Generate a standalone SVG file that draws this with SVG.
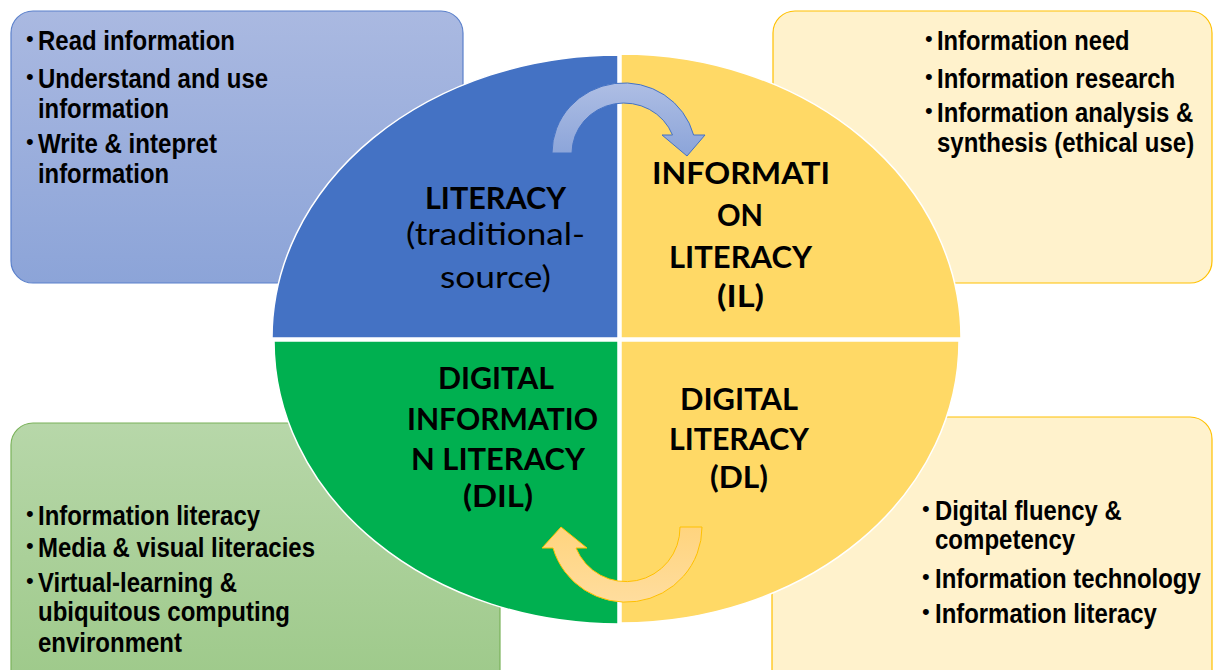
<svg xmlns="http://www.w3.org/2000/svg" width="1214" height="670" viewBox="0 0 1214 670">
<defs>
<linearGradient id="gBlue" x1="0" y1="0" x2="0" y2="1"><stop offset="0" stop-color="#AAB9E1"/><stop offset="1" stop-color="#8CA4D8"/></linearGradient>
<linearGradient id="gGreen" x1="0" y1="0" x2="0" y2="1"><stop offset="0" stop-color="#B7D7A9"/><stop offset="1" stop-color="#9DC989"/></linearGradient>
<linearGradient id="gArrowB" x1="0" y1="0" x2="0" y2="1"><stop offset="0" stop-color="#AEBEE4"/><stop offset="1" stop-color="#8BA4D9"/></linearGradient>
<linearGradient id="gArrowY" x1="0" y1="0" x2="0" y2="1"><stop offset="0" stop-color="#FFD47E"/><stop offset="1" stop-color="#FFDD9E"/></linearGradient>
<style>
.b{font-family:"Liberation Sans",Arial,sans-serif;font-weight:bold;fill:#000;}
.s28{font-size:28px;}
.s27{font-size:27px;}
.u{font-family:"Liberation Sans",Arial,sans-serif;font-size:22px;fill:#000;}
.c{font-family:Lato,"Open Sans",sans-serif;font-size:31px;fill:#000;}
.cb{font-weight:bold;}
.q{stroke:#FFFFFF;stroke-width:1.5;}
</style>
</defs>

<g id="box-literacy">
<rect x="11" y="11" width="452" height="272" rx="22" fill="url(#gBlue)" stroke="#5B80CB" stroke-width="1.2"/>
<text class="u" x="26" y="46">•</text>
<text class="b s28" x="38" y="50" textLength="197" lengthAdjust="spacingAndGlyphs">Read information</text>
<text class="u" x="26" y="84">•</text>
<text class="b s28" x="38" y="88" textLength="230" lengthAdjust="spacingAndGlyphs">Understand and use</text>
<text class="b s28" x="38" y="118" textLength="131" lengthAdjust="spacingAndGlyphs">information</text>
<text class="u" x="26" y="149">•</text>
<text class="b s28" x="38" y="153" textLength="179" lengthAdjust="spacingAndGlyphs">Write &amp; intepret</text>
<text class="b s28" x="38" y="183" textLength="131" lengthAdjust="spacingAndGlyphs">information</text>
</g>

<g id="box-il">
<rect x="773" y="11" width="439" height="272" rx="22" fill="#FFF2CC" stroke="#FFC000" stroke-width="1.2"/>
<text class="u" x="925" y="46">•</text>
<text class="b s28" transform="translate(937,50) scale(0.86,1)" textLength="224" lengthAdjust="spacingAndGlyphs">Information need</text>
<text class="u" x="925" y="84">•</text>
<text class="b s28" transform="translate(937,88) scale(0.86,1)" textLength="277" lengthAdjust="spacingAndGlyphs">Information research</text>
<text class="u" x="925" y="118">•</text>
<text class="b s28" transform="translate(937,122) scale(0.86,1)" textLength="298" lengthAdjust="spacingAndGlyphs">Information analysis &amp;</text>
<text class="b s28" transform="translate(937,152) scale(0.86,1)" textLength="299" lengthAdjust="spacingAndGlyphs">synthesis (ethical use)</text>
</g>

<g id="box-dil">
<rect x="11" y="423" width="489" height="270" rx="22" fill="url(#gGreen)" stroke="#7AB25A" stroke-width="1.2"/>
<text class="u" x="26" y="521">•</text>
<text class="b s27" x="38" y="525" textLength="222" lengthAdjust="spacingAndGlyphs">Information literacy</text>
<text class="u" x="26" y="553">•</text>
<text class="b s27" x="38" y="557" textLength="277" lengthAdjust="spacingAndGlyphs">Media &amp; visual literacies</text>
<text class="u" x="26" y="588">•</text>
<text class="b s27" x="38" y="592" textLength="199" lengthAdjust="spacingAndGlyphs">Virtual-learning &amp;</text>
<text class="b s27" x="38" y="621" textLength="252" lengthAdjust="spacingAndGlyphs">ubiquitous computing</text>
<text class="b s27" x="38" y="652" textLength="144" lengthAdjust="spacingAndGlyphs">environment</text>
</g>

<g id="box-dl">
<rect x="772" y="417" width="440" height="280" rx="22" fill="#FFF2CC" stroke="#FFC000" stroke-width="1.2"/>
<text class="u" x="922" y="516">•</text>
<text class="b s27" transform="translate(935,520) scale(0.86,1)" textLength="217" lengthAdjust="spacingAndGlyphs">Digital fluency &amp;</text>
<text class="b s27" transform="translate(935,549) scale(0.86,1)" textLength="163" lengthAdjust="spacingAndGlyphs">competency</text>
<text class="u" x="922" y="584">•</text>
<text class="b s27" transform="translate(935,588) scale(0.86,1)" textLength="309" lengthAdjust="spacingAndGlyphs">Information technology</text>
<text class="u" x="922" y="619">•</text>
<text class="b s27" transform="translate(935,623) scale(0.86,1)" textLength="258" lengthAdjust="spacingAndGlyphs">Information literacy</text>
</g>

<g id="quad-literacy">
<path class="q" d="M618,338 L272,338 A346,283 0 0 1 618,55 Z" fill="#4472C4"/>
<text class="c cb" x="425" y="209" textLength="141" lengthAdjust="spacingAndGlyphs">LITERACY</text>
<text class="c" x="406" y="245" textLength="179" lengthAdjust="spacingAndGlyphs">(traditional-</text>
<text class="c" x="440" y="288" textLength="111" lengthAdjust="spacingAndGlyphs">source)</text>
</g>

<g id="quad-il">
<path class="q" d="M621,338 L961,338 A340,284 0 0 0 621,54 Z" fill="#FFD966"/>
<text class="c cb" x="652" y="184" textLength="178" lengthAdjust="spacingAndGlyphs">INFORMATI</text>
<text class="c cb" x="717" y="226" textLength="46" lengthAdjust="spacingAndGlyphs">ON</text>
<text class="c cb" x="669" y="268" textLength="143" lengthAdjust="spacingAndGlyphs">LITERACY</text>
<text class="c cb" x="717" y="307" textLength="47" lengthAdjust="spacingAndGlyphs">(IL)</text>
</g>

<g id="quad-dil">
<path class="q" d="M618,341 L274,341 A344,283 0 0 0 618,624 Z" fill="#00B050"/>
<text class="c cb" x="438" y="389" textLength="116" lengthAdjust="spacingAndGlyphs">DIGITAL</text>
<text class="c cb" x="407" y="430" textLength="191" lengthAdjust="spacingAndGlyphs">INFORMATIO</text>
<text class="c cb" x="411" y="470" textLength="174" lengthAdjust="spacingAndGlyphs">N LITERACY</text>
<text class="c cb" x="463" y="507" textLength="70" lengthAdjust="spacingAndGlyphs">(DIL)</text>
</g>

<g id="quad-dl">
<path class="q" d="M621,341 L959,341 A338,282 0 0 1 621,623 Z" fill="#FFD966"/>
<text class="c cb" x="680" y="410" textLength="118" lengthAdjust="spacingAndGlyphs">DIGITAL</text>
<text class="c cb" x="669" y="450" textLength="140" lengthAdjust="spacingAndGlyphs">LITERACY</text>
<text class="c cb" x="710" y="488" textLength="58" lengthAdjust="spacingAndGlyphs">(DL)</text>
</g>

<g id="connectors">
<path d="M552,153 A72,70 0 0 1 693.6,135 L705,135 L687,156 L662,135 L672.5,135 A52,50 0 0 0 572,153 Z" fill="url(#gArrowB)" stroke="#4472C4" stroke-width="1"/>
<path d="M702,527 A76,75 0 0 1 553,548 L542,548 L561,527 L587,548 L576,548 A54,54 0 0 0 680,527 Z" fill="url(#gArrowY)" stroke="#FFC000" stroke-width="1"/>
</g>
</svg>
